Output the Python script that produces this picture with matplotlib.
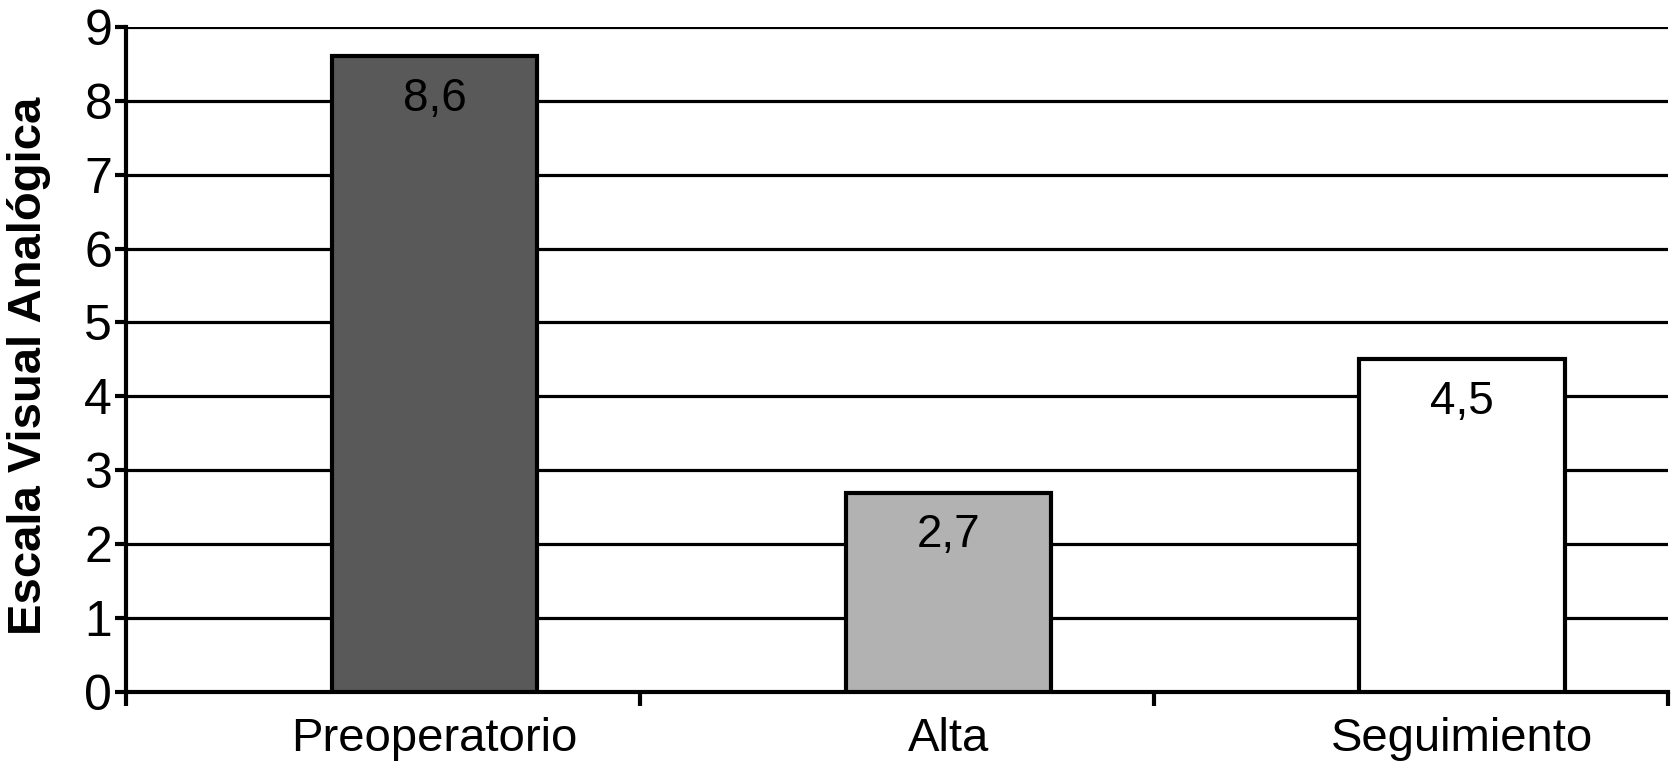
import matplotlib.pyplot as plt
import numpy as np

categories = ['Preoperatorio', 'Alta', 'Seguimiento']
values = [8.6, 2.7, 4.5]
labels = ['8,6', '2,7', '4,5']
colors = ['#595959', '#b2b2b2', '#ffffff']

plt.rcParams['font.family'] = ['Liberation Sans', 'DejaVu Sans']

fig = plt.figure(figsize=(16.74, 7.64), dpi=100)
ax = fig.add_axes([0.0753, 0.094, 0.921, 0.871])

x = np.arange(len(categories))
ax.set_axisbelow(True)
ax.yaxis.grid(True, color='black', linewidth=2.3)
ax.bar(x, values, width=0.4, color=colors, edgecolor='black', linewidth=3, zorder=3)

for xi, v, lab in zip(x, values, labels):
    ax.text(xi, v - 0.58, lab, ha='center', va='center', fontsize=33, zorder=4)

ax.set_xlim(-0.6, len(categories) - 0.6)
ax.set_ylim(0, 9)
ax.set_yticks(range(0, 10))
ax.set_xticks(x)
ax.set_xticklabels(categories, fontsize=34)
ax.set_xticks(np.arange(-0.6, len(categories), 1), minor=True)
ax.tick_params(axis='x', which='major', length=0, pad=18)
ax.tick_params(axis='x', which='minor', length=10, width=3)
ax.tick_params(axis='y', labelsize=36, length=8, width=3, pad=2)

for s in ['top', 'right']:
    ax.spines[s].set_visible(False)
ax.spines['left'].set_linewidth(3)
ax.spines['bottom'].set_linewidth(3)

ax.set_ylabel('Escala Visual Analógica', fontsize=34, fontweight='bold')
ax.yaxis.set_label_coords(-0.049, 0.49)

fig.savefig('out.png', dpi=100)
